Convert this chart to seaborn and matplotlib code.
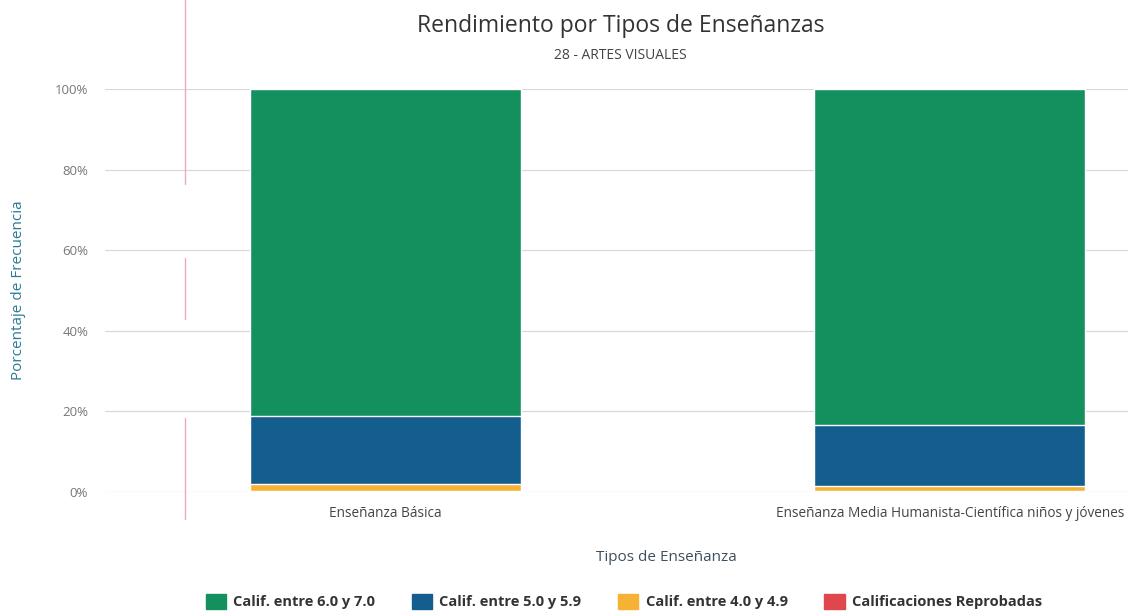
import numpy as np
import pandas as pd
import matplotlib
matplotlib.use("Agg")
import matplotlib.pyplot as plt
import seaborn as sns
from matplotlib.lines import Line2D

# datos (porcentajes por tipo de enseñanza)
tipos = ["Enseñanza Básica", "Enseñanza Media Humanista-Científica niños y jóvenes"]
series = ["Calif. entre 6.0 y 7.0", "Calif. entre 5.0 y 5.9",
          "Calif. entre 4.0 y 4.9", "Calificaciones Reprobadas"]
calif_6_7 = [81.2, 83.4]
calif_5_59 = [16.8, 15.1]
calif_4_49 = [1.8, 1.4]
reprobadas = [0.2, 0.1]
colores = ["#14905f", "#135e8e", "#f6b234", "#e0474c"]

sns.set_theme(style="white")
plt.rcParams['font.family'] = ['Open Sans', 'DejaVu Sans']

fig = plt.figure(figsize=(11.28, 6.14), dpi=100)
ax = fig.add_axes([0.093, 0.199, 0.907, 0.656])

# acumulados: se dibuja de arriba hacia abajo
capas = [calif_6_7, calif_5_59, calif_4_49, reprobadas]
acum = np.zeros(len(tipos))
acumulados = []
for c in reversed(capas):
    acum = acum + np.array(c)
    acumulados.append(acum.copy())
acumulados = list(reversed(acumulados))  # mismo orden que series

for nombre, col, val in zip(series, colores, acumulados):
    df = pd.DataFrame({"tipo": tipos, "valor": val})
    sns.barplot(data=df, x="tipo", y="valor", color=col, width=0.48,
                saturation=1, edgecolor="white", linewidth=1, ax=ax)

ax.set_ylim(0, 100)
ax.set_xlim(-0.498, 1.316)
ax.set_yticks([0, 20, 40, 60, 80, 100])
ax.set_yticklabels([f"{v}%" for v in [0, 20, 40, 60, 80, 100]],
                   fontsize=9.5, color="#777777")
ax.tick_params(axis="x", labelsize=9.8, colors="#444444", length=0, pad=10)
ax.tick_params(axis="y", length=0, pad=12)
ax.yaxis.grid(True, color="#d8d8d8", linewidth=0.9)
ax.set_axisbelow(True)
for s in ax.spines.values():
    s.set_visible(False)

ax.set_ylabel("Porcentaje de Frecuencia", fontsize=11, color="#2b7a96")
ax.yaxis.set_label_coords(-0.077, 0.5)
ax.set_xlabel("Tipos de Enseñanza", fontsize=11, color="#3c5060")
ax.xaxis.set_label_coords(0.549, -0.145)

fig.text(0.55, 0.958, "Rendimiento por Tipos de Enseñanzas", ha="center",
         va="center", fontsize=16.5, color="#333333")
fig.text(0.55, 0.91, "28 - ARTES VISUALES", ha="center", va="center",
         fontsize=10, color="#444444")

handles = [plt.Rectangle((0, 0), 1, 1, color=c) for c in colores]
fig.legend(handles, series, loc="center", bbox_to_anchor=(0.553, 0.02),
           ncol=4, frameon=False, handlelength=1.4,
           handleheight=1.2, columnspacing=2.5, handletextpad=0.5,
           prop={"weight": "bold", "size": 10.5})
for t in fig.legends[0].get_texts():
    t.set_color("#333333")

# linea rosada del escaneo
for y0, y1 in [(1.0, 0.70), (0.58, 0.48), (0.32, 0.155)]:
    fig.add_artist(Line2D([0.164, 0.164], [y0, y1], color="#f0a8c0",
                          linewidth=1, transform=fig.transFigure))

fig.savefig("out.png", dpi=100)
